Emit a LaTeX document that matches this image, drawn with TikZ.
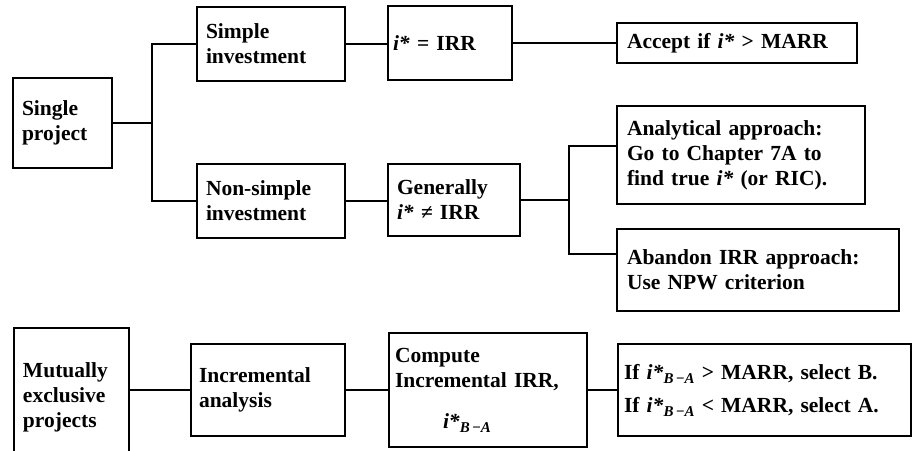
\documentclass[tikz,border=0pt]{standalone}
\usepackage{fontspec}
\setmainfont{Liberation Serif}
\begin{document}
\begin{tikzpicture}[x=1pt,y=-1pt,
  box/.style={draw, line width=2pt, align=left, inner ysep=0pt,
    font=\fontsize{21.5}{25}\selectfont\bfseries},
  link/.style={line width=2pt}]
\useasboundingbox (0,0) rectangle (912,450);
\clip (0,0) rectangle (912,450);
\newcommand{\istar}{\textit{i*}}
\newcommand{\subBA}{\raisebox{-0.4ex}{\fontsize{15}{15}\selectfont\textit{B}\,−\textit{A}}}
% top part
\node[box, minimum width=99pt, minimum height=90pt, inner xsep=9pt, text width=81pt] (sp) at (62.5,123) {Single\\project};
\node[box, minimum width=148pt, minimum height=74pt, inner xsep=9pt, text width=130pt] (si) at (271,44) {Simple\\investment};
\node[box, minimum width=148pt, minimum height=74pt, inner xsep=9pt, text width=130pt] (ns) at (271,201) {Non-simple\\investment};
\node[box, minimum width=124pt, minimum height=74pt, inner xsep=5pt, text width=114pt] (irr) at (450,43) {\istar{} = IRR};
\node[box, minimum width=132pt, minimum height=72pt, inner xsep=9pt, text width=114pt] (gen) at (454,200) {Generally\\\istar{} ≠ IRR};
\node[box, minimum width=240pt, minimum height=40pt, inner xsep=10pt, text width=220pt] (acc) at (737,43) {Accept if \istar{} > MARR};
\node[box, minimum width=248pt, minimum height=98pt, inner xsep=10pt, text width=228pt] (ana) at (741,155) {Analytical approach:\\Go to Chapter 7A to\\find true \istar{} (or RIC).};
\node[box, minimum width=282pt, minimum height=82pt, inner xsep=10pt, text width=262pt] (aba) at (758,270) {Abandon IRR approach:\\Use NPW criterion};
% bottom part
\node[box, minimum width=115pt, minimum height=138pt, inner xsep=9pt, text width=97pt] (mut) at (71.5,397) {Mutually\\exclusive\\projects};
\node[box, minimum width=154pt, minimum height=92pt, inner xsep=8pt, text width=138pt] (inc) at (268,390) {Incremental\\analysis};
\node[box, minimum width=198pt, minimum height=114pt, inner xsep=6pt, text width=186pt] (cmp) at (488,390) {Compute\\Incremental IRR,\\[16pt]\hspace*{48pt}\istar\subBA};
\node[box, minimum width=293pt, minimum height=92pt, inner xsep=6pt, text width=281pt] (ifb) at (764.5,390) {If \istar\subBA{} > MARR, select B.\\[8pt]If \istar\subBA{} < MARR, select A.};
% connectors
\coordinate (j1) at (152,123);
\coordinate (j2) at (569,200);
\draw[link] (sp.east) -- (j1);
\draw[link] (si.west) -| (j1) |- (ns.west);
\draw[link] (si.east) -- (irr.west |- si.east);
\draw[link] (irr.east) -- (acc.west |- irr.east);
\draw[link] (ns.east) -- (gen.west |- ns.east);
\draw[link] (gen.east) -- (j2);
\draw[link] ([yshift=9pt]ana.west) -| (j2) |- ([yshift=16pt]aba.west);
\draw[link] (mut.east |- inc.west) -- (inc.west);
\draw[link] (inc.east) -- (cmp.west |- inc.east);
\draw[link] (cmp.east |- ifb.west) -- (ifb.west);
\end{tikzpicture}
\end{document}
